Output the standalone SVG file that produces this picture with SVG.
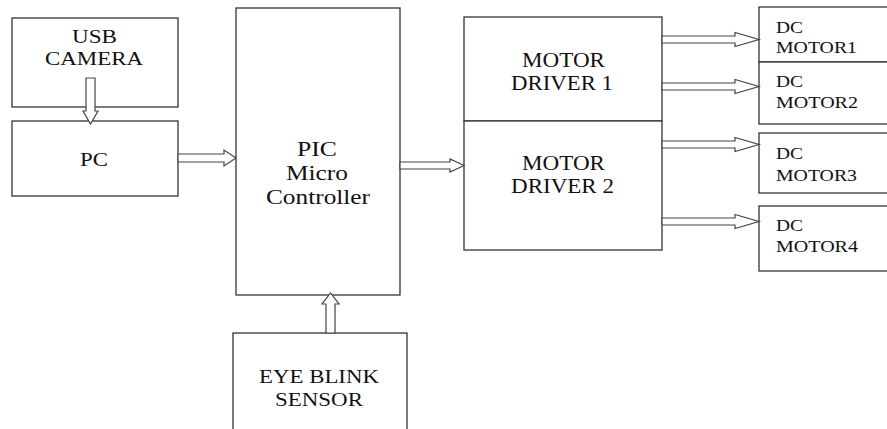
<svg xmlns="http://www.w3.org/2000/svg" width="887" height="429" viewBox="0 0 887 429">
<style>
.box{fill:#fff;stroke:#333;stroke-width:1.3}
.arr{fill:#fff;stroke:#444;stroke-width:1.2;stroke-linejoin:miter}
text{font-family:"Liberation Serif","Times New Roman",serif;fill:#111}
.c{text-anchor:middle}
.t18{font-size:18px}
.t21{font-size:20px}
.t22{font-size:22px}
.dc{font-size:16px;text-anchor:start}
</style>
<rect width="887" height="429" fill="#fff"/>
<g id="usb-camera">
<rect class="box" x="12" y="18" width="166" height="89"/>
<text class="t18" x="72" y="43" textLength="45" lengthAdjust="spacingAndGlyphs">USB</text>
<text class="t18" x="45" y="65" textLength="98" lengthAdjust="spacingAndGlyphs">CAMERA</text>
</g>
<g id="pc">
<rect class="box" x="12" y="121" width="166" height="75"/>
<text class="t18" x="80" y="166" textLength="28" lengthAdjust="spacingAndGlyphs">PC</text>
</g>
<g id="pic">
<rect class="box" x="236" y="8" width="164" height="287"/>
<text class="t22" x="297" y="156" textLength="40" lengthAdjust="spacingAndGlyphs">PIC</text>
<text class="t22" x="286" y="180" textLength="62" lengthAdjust="spacingAndGlyphs">Micro</text>
<text class="t22" x="266" y="204" textLength="104" lengthAdjust="spacingAndGlyphs">Controller</text>
</g>
<g id="eye-blink-sensor">
<rect class="box" x="233" y="333" width="174" height="100"/>
<text class="t18" x="259" y="383" textLength="120" lengthAdjust="spacingAndGlyphs">EYE BLINK</text>
<text class="t18" x="275" y="406" textLength="88" lengthAdjust="spacingAndGlyphs">SENSOR</text>
</g>
<g id="motor-driver-1">
<rect class="box" x="464" y="17" width="198" height="104"/>
<text class="t21" x="522" y="67" textLength="83" lengthAdjust="spacingAndGlyphs">MOTOR</text>
<text class="t21" x="511" y="90" textLength="102" lengthAdjust="spacingAndGlyphs">DRIVER 1</text>
</g>
<g id="motor-driver-2">
<rect class="box" x="464" y="121" width="198" height="129"/>
<text class="t21" x="522" y="170" textLength="83" lengthAdjust="spacingAndGlyphs">MOTOR</text>
<text class="t21" x="511" y="193" textLength="103" lengthAdjust="spacingAndGlyphs">DRIVER 2</text>
</g>
<g id="dc-motor1">
<rect class="box" x="759" y="7" width="140" height="55"/>
<text class="dc" x="776" y="33" textLength="27" lengthAdjust="spacingAndGlyphs">DC</text>
<text class="dc" x="776" y="53" textLength="81" lengthAdjust="spacingAndGlyphs">MOTOR1</text>
</g>
<g id="dc-motor2">
<rect class="box" x="759" y="62" width="140" height="62"/>
<text class="dc" x="776" y="87" textLength="27" lengthAdjust="spacingAndGlyphs">DC</text>
<text class="dc" x="776" y="108" textLength="82" lengthAdjust="spacingAndGlyphs">MOTOR2</text>
</g>
<g id="dc-motor3">
<rect class="box" x="759" y="133" width="140" height="60"/>
<text class="dc" x="776" y="159" textLength="27" lengthAdjust="spacingAndGlyphs">DC</text>
<text class="dc" x="776" y="181" textLength="81" lengthAdjust="spacingAndGlyphs">MOTOR3</text>
</g>
<g id="dc-motor4">
<rect class="box" x="759" y="206" width="140" height="65"/>
<text class="dc" x="776" y="231" textLength="27" lengthAdjust="spacingAndGlyphs">DC</text>
<text class="dc" x="776" y="252" textLength="82" lengthAdjust="spacingAndGlyphs">MOTOR4</text>
</g>
<g id="connectors">
<polygon class="arr" points="86,78 95,78 95,111 98,111 90.5,124 83,111 86,111"/>
<polygon class="arr" points="178,154 224,154 224,150 236,158 224,166 224,162 178,162"/>
<polygon class="arr" points="400,162 450,162 450,159 464,165.5 450,172 450,169 400,169"/>
<polygon class="arr" points="662,36 735,36 735,32.5 759,39.5 735,46.5 735,43 662,43"/>
<polygon class="arr" points="662,83 735,83 735,79.5 759,86.5 735,93.5 735,90 662,90"/>
<polygon class="arr" points="662,141 735,141 735,137.5 759,144.5 735,151.5 735,148 662,148"/>
<polygon class="arr" points="662,218 735,218 735,214.5 759,221.5 735,228.5 735,225 662,225"/>
<polygon class="arr" points="326,333 326,304 322,304 330.5,293 339,304 335,304 335,333"/>
</g>
</svg>
